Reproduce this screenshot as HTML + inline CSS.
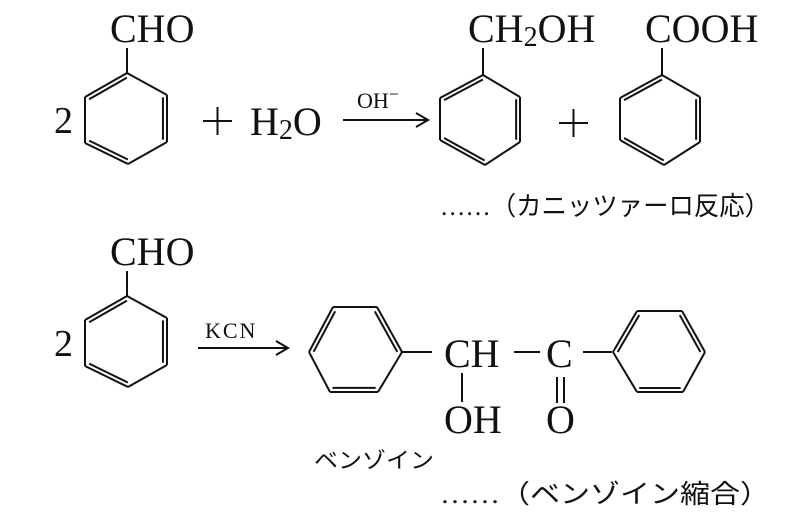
<!DOCTYPE html>
<html><head><meta charset="utf-8"><style>
html,body{margin:0;padding:0;background:#fff;}
svg{display:block;}
text{font-family:"Liberation Serif","Noto Serif CJK SC",serif;fill:#111;}
.j{font-family:"Liberation Serif","Noto Sans CJK JP",sans-serif;}
</style></head><body>
<svg id="s" width="800" height="524" viewBox="0 0 800 524" stroke="#111" stroke-width="2" fill="none">
<g stroke="none">
<text x="110" y="42" font-size="40">CHO</text>
<text x="54" y="133" font-size="38">2</text>
<text x="250" y="135" font-size="40">H<tspan font-size="28" dy="4">2</tspan><tspan dy="-4">O</tspan></text>
<text x="357" y="108" font-size="22">OH<tspan font-size="18" dy="-8">−</tspan></text>
<text x="468" y="42" font-size="40">CH<tspan font-size="28" dy="4">2</tspan><tspan dy="-4">OH</tspan></text>
<text x="645" y="42" font-size="40">COOH</text>
<text class="j" x="440" y="215" font-size="26" textLength="330" lengthAdjust="spacingAndGlyphs">……（カニッツァーロ反応）</text>
<text x="110" y="265" font-size="40">CHO</text>
<text x="54" y="356" font-size="38">2</text>
<text x="205" y="338" font-size="22" letter-spacing="2">KCN</text>
<text x="444" y="367" font-size="40">CH</text>
<text x="546" y="367" font-size="40">C</text>
<text x="444" y="433" font-size="40">OH</text>
<text x="546" y="433" font-size="40">O</text>
<text class="j" x="314" y="468" font-size="22" textLength="120" lengthAdjust="spacingAndGlyphs">ベンゾイン</text>
<text class="j" x="440" y="503" font-size="26" textLength="330" lengthAdjust="spacingAndGlyphs">……（ベンゾイン縮合）</text>
</g>
<line x1="203" y1="121" x2="232" y2="121"/>
<line x1="217.5" y1="107" x2="217.5" y2="135"/>
<line x1="559" y1="123" x2="588" y2="123"/>
<line x1="573.5" y1="109" x2="573.5" y2="137"/>
<line x1="127" y1="48" x2="127" y2="73"/>
<line x1="483" y1="48" x2="483" y2="75"/>
<line x1="662" y1="48" x2="662" y2="75"/>
<line x1="127" y1="271" x2="127" y2="296"/>
<line x1="343" y1="120" x2="426" y2="120"/>
<path d="M416,113 L428,120 L416,127" />
<line x1="198" y1="348" x2="286" y2="348"/>
<path d="M276,341 L288,348 L276,355"/>
<line x1="402" y1="352" x2="432" y2="352"/>
<line x1="514" y1="352" x2="540" y2="352"/>
<line x1="583" y1="352" x2="612" y2="352"/>
<line x1="462" y1="373" x2="462" y2="402"/>
<line x1="557" y1="377" x2="557" y2="403"/>
<line x1="564" y1="377" x2="564" y2="403"/>
</svg>
<script>
var s=document.getElementById('s');
function ln(a,b){var l=document.createElementNS('http://www.w3.org/2000/svg','line');l.setAttribute('x1',a[0]);l.setAttribute('y1',a[1]);l.setAttribute('x2',b[0]);l.setAttribute('y2',b[1]);s.appendChild(l);}
function ring(p,d){var cx=0,cy=0;p.forEach(function(q){cx+=q[0];cy+=q[1];});cx/=6;cy/=6;
for(var i=0;i<6;i++)ln(p[i],p[(i+1)%6]);
d.forEach(function(i){var a=p[i],b=p[(i+1)%6],f=0.9;
var a2=[cx+(a[0]-cx)*f,cy+(a[1]-cy)*f],b2=[cx+(b[0]-cx)*f,cy+(b[1]-cy)*f];ln(a2,b2);});}
ring([[127,73],[85,97],[85,143],[128,164],[167,142],[167,95]],[0,2,4]);
ring([[483,75],[440,98],[440,140],[485,165],[520,142],[520,97]],[0,2,4]);
ring([[662,75],[620,98],[620,140],[664,165],[700,142],[700,97]],[0,2,4]);
ring([[127,296],[85,320],[85,366],[128,387],[167,365],[167,318]],[0,2,4]);
ring([[333,307],[377,307],[402,352],[378,392],[330,392],[309,352]],[1,3,5]);
ring([[613,352],[637,311],[682,311],[705,352],[683,392],[637,392]],[0,2,4]);
</script>
</body></html>
